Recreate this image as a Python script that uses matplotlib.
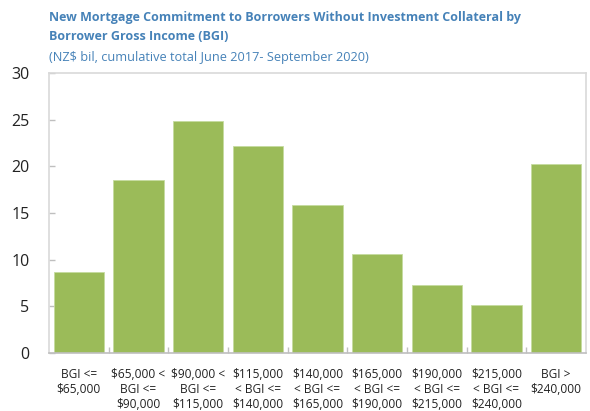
import matplotlib
matplotlib.use("Agg")
import matplotlib.pyplot as plt
import numpy as np

plt.rcParams['font.family'] = ['Open Sans', 'DejaVu Sans']

categories = ["BGI <=\n$65,000", "$65,000 <\nBGI <=\n$90,000", "$90,000 <\nBGI <=\n$115,000",
              "$115,000\n< BGI <=\n$140,000", "$140,000\n< BGI <=\n$165,000", "$165,000\n< BGI <=\n$190,000",
              "$190,000\n< BGI <=\n$215,000", "$215,000\n< BGI <=\n$240,000", "BGI >\n$240,000"]
values = [8.7, 18.5, 24.9, 22.2, 15.9, 10.6, 7.3, 5.1, 20.2]
yticks = [0, 5, 10, 15, 20, 25, 30]

fig = plt.figure(figsize=(5.9, 4.11), dpi=100)
ax = fig.add_axes([49/590, 1-353/411, (586-49)/590, (353-73)/411])

x = np.arange(len(categories))
ax.bar(x, values, width=0.84, color='#9BBB59', edgecolor='#C5DBA0', linewidth=0.6, zorder=2)
ax.set_xlim(-0.5, len(categories)-0.5)
ax.set_ylim(0, 30)
ax.set_yticks(yticks)
ax.set_yticklabels([str(t) for t in yticks], fontsize=11.5, color='#222222')
ax.set_xticks(x)
ax.set_xticklabels(categories, fontsize=8.6, color='#222222', linespacing=1.2)
ax.tick_params(axis='x', length=0, pad=11)
ax.set_xticks(np.arange(len(categories)+1)[1:-1]-0.5, minor=True)
ax.tick_params(axis='x', which='minor', direction='in', length=4, color='#BFBFBF', width=1)
ax.tick_params(axis='y', direction='in', length=4, color='#BFBFBF', width=1, pad=14)
for s in ax.spines.values():
    s.set_color('#D9D9D9')
    s.set_linewidth(1.2)
ax.spines['bottom'].set_color('#BFBFBF')

title_color = '#4682B8'
title_lines = ["New Mortgage Commitment to Borrowers Without Investment Collateral by",
               "Borrower Gross Income (BGI)"]
fig.text(49/590, 1-17/411, title_lines[0], fontsize=9.0, fontweight='bold', color=title_color, va='center', ha='left')
fig.text(49/590, 1-37/411, title_lines[1], fontsize=9.0, fontweight='bold', color=title_color, va='center', ha='left')
fig.text(49/590, 1-57/411, "(NZ$ bil, cumulative total June 2017- September 2020)",
         fontsize=9.2, color=title_color, va='center', ha='left')

fig.savefig("out.png", dpi=100)
